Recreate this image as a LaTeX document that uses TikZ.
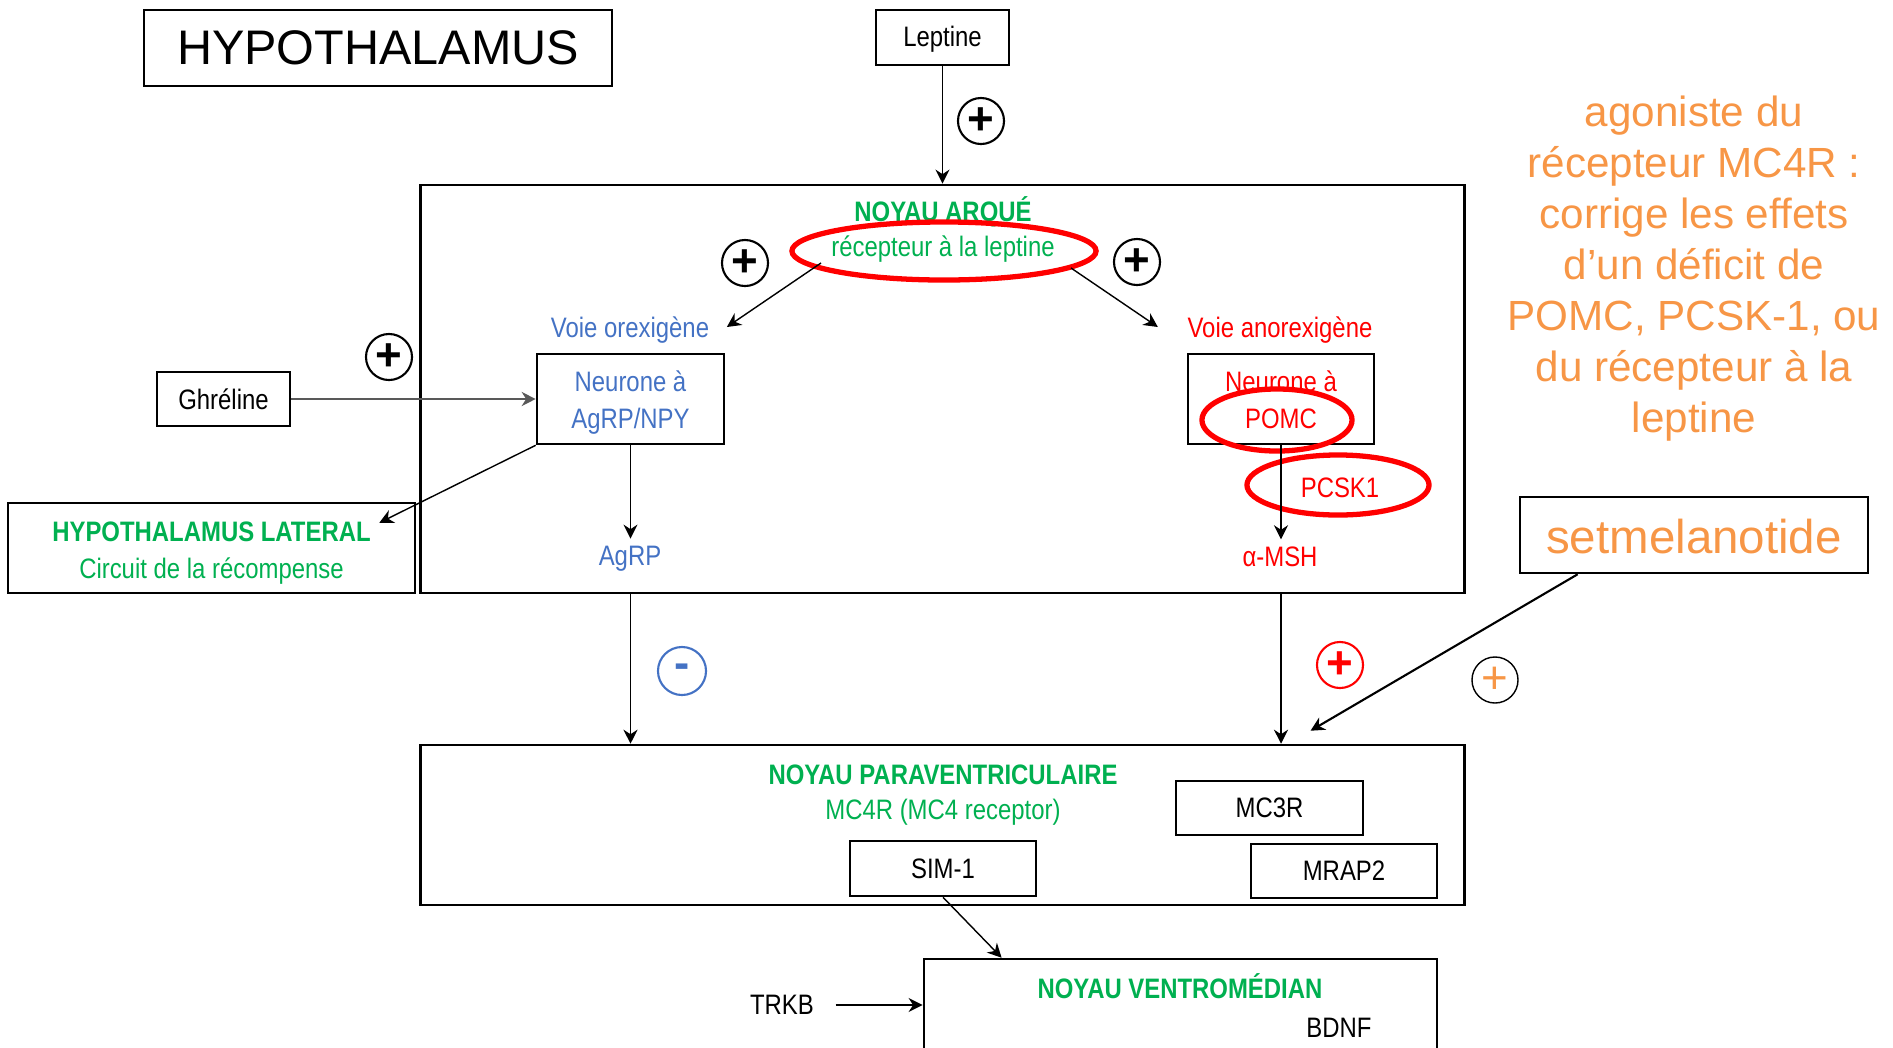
\documentclass[tikz,border=0pt]{standalone}
\usepackage{fontspec}
\setmainfont{Liberation Sans}
\newfontfamily\narrowfont[FakeStretch=0.85]{Liberation Sans}
\usetikzlibrary{arrows.meta,shapes.geometric,calc}
\definecolor{vert}{HTML}{00B050}
\definecolor{bleu}{HTML}{4472C4}
\definecolor{rouge}{HTML}{FF0000}
\definecolor{orangetxt}{HTML}{F79646}
\begin{document}
\begin{tikzpicture}[x=0.01cm,y=-0.01cm,
  boite/.style={draw,line width=0.7pt,inner sep=0pt},
  lbl/.style={font=\narrowfont\fontsize{8}{10.5}\selectfont,inner sep=2pt},
  gras/.style={font=\narrowfont\bfseries\fontsize{8}{10.5}\selectfont,inner sep=2pt},
  fl/.style={-{Stealth[length=4pt,width=4pt]},line width=0.4pt},
  signe/.style={circle,draw,line width=0.6pt,minimum size=0.46cm,inner sep=0pt,font=\bfseries\fontsize{13}{13}\selectfont},
  anneau/.style={ellipse,draw=rouge,line width=1.5pt,inner sep=0pt}]
\clip (0,0) rectangle (1893,1048);
\node[boite,minimum width=4.68cm,minimum height=0.76cm,font=\fontsize{13.8}{14}\selectfont] (hypo) at (378,48) {HYPOTHALAMUS};
\node[boite,minimum width=1.33cm,minimum height=0.55cm] (leptine) at (942.5,37.5) {};
\node[lbl] at (942.5,39.5) {Leptine};
% noyau arque
\node[boite,minimum width=10.43cm,minimum height=4.08cm] (arque) at (942.5,389) {};
\draw[fl] (leptine) -- (arque);
\node[signe] at (981,121) {+};
\node[gras,text=vert] (arqueT) at (943,212) {NOYAU ARQUÉ};
\node[lbl,text=vert] (recep) at (943,249) {récepteur à la leptine};
\node[anneau,minimum width=3.04cm,minimum height=0.58cm] (anRecep) at (944,251) {};
\node[signe] at (745,263) {+};
\node[signe] at (1137,262) {+};
\node[lbl,text=bleu] (orexi) at (630,330) {Voie orexigène};
\node[lbl,text=rouge] (anorexi) at (1280,330) {Voie anorexigène};
\coordinate (recG) at (821,263);
\coordinate (recD) at (1071,268);
\draw[fl] (recG) -- ([xshift=0.1cm,yshift=0.03cm]orexi.east);
\draw[fl] (recD) -- ([xshift=-0.22cm,yshift=0.03cm]anorexi.west);
\node[boite,minimum width=1.87cm,minimum height=0.9cm] (agrpN) at (630.5,399) {};
\node[lbl,text=bleu,align=center] at (630.5,403) {Neurone à\\AgRP/NPY};
\node[boite,minimum width=1.86cm,minimum height=0.9cm] (pomcN) at (1281,399) {};
\node[lbl,text=rouge,align=center] at (1281,400) {Neurone à\\POMC};
\node[anneau,minimum width=1.5cm,minimum height=0.62cm] (anPomc) at (1277,420) {};
\node[anneau,minimum width=1.82cm,minimum height=0.6cm] (pcsk) at (1338,485) {};
\node[lbl,text=rouge] at (1340,488) {PCSK1};
\node[lbl,text=rouge] (msh) at (1280,557) {α-MSH};
\draw[fl] (pomcN.south) -- (pomcN.south |- msh.north);
\node[lbl,text=bleu] (agrp) at (630,559) {AgRP};
\draw[fl] (agrpN.south) -- (agrpN.south |- agrp.north);
% ghreline
\node[boite,lbl,minimum width=1.33cm,minimum height=0.54cm] (ghrel) at (223.5,399) {Ghréline};
\draw[fl,draw=black!65,line width=0.6pt] (ghrel) -- (agrpN);
\node[signe] at (389,357) {+};
\node[boite,minimum width=4.07cm,minimum height=0.9cm] (lat) at (211.5,548) {};
\node[lbl,align=center,text=vert] at (211.5,553) {{\bfseries HYPOTHALAMUS LATERAL}\\Circuit de la récompense};
\draw[fl] (agrpN.south west) -- ($(lat.north east)+(-37,21)$);
% noyau paraventriculaire
\node[boite,minimum width=10.43cm,minimum height=1.6cm] (para) at (942.5,825) {};
\draw[fl] (arque.south -| agrpN) -- (para.north -| agrpN);
\draw[fl] (arque.south -| pomcN) -- (para.north -| pomcN);
\node[signe,draw=bleu,text=bleu,minimum size=0.48cm] at (682,671) {-};
\node[signe,draw=rouge,text=rouge] at (1340,665) {+};
\node[gras,text=vert] (paraT) at (943,775) {NOYAU PARAVENTRICULAIRE};
\node[lbl,text=vert] (mc4r) at (943,812) {MC4R (MC4 receptor)};
\node[boite,lbl,minimum width=1.86cm,minimum height=0.55cm] (sim) at (943,868.5) {SIM-1};
\node[boite,lbl,minimum width=1.87cm,minimum height=0.54cm] (mc3r) at (1269.5,808) {MC3R};
\node[boite,lbl,minimum width=1.86cm,minimum height=0.54cm] (mrap) at (1344,871) {MRAP2};
% noyau ventromedian
\node[boite,minimum width=5.13cm,minimum height=1.4cm] (vmh) at (1180.5,1029) {};
\draw[fl] (sim.south) -- ($(vmh.north west)+(79,0)$);
\node[gras,text=vert] (vmhT) at (1180,986) {NOYAU VENTROMÉDIAN};
\node[lbl] (bdnf) at (1339,1028) {BDNF};
\node[lbl] (trkb) at (782,1005) {TRKB};
\draw[fl] ([xshift=0.14cm]trkb.east) -- (trkb.east -| vmh.west);
% setmelanotide
\node[boite,minimum width=3.48cm,minimum height=0.76cm] (setm) at (1694,535) {};
\node[text=orangetxt,font=\fontsize{13.5}{14}\selectfont] at (1694,537) {setmelanotide};
\draw[fl,line width=0.6pt] ($(setm.south west)+(59,0)$) -- ($(para.north east)+(-155,-13)$);
\node[signe,line width=0.4pt,text=orangetxt,font=\fontsize{13}{13}\selectfont] at (1495,680) {+};
\node[text=orangetxt,align=center,font=\fontsize{12}{14.5}\selectfont] (agon) at (1694,269) {agoniste du\\récepteur MC4R :\\corrige les effets\\d’un déficit de\\POMC, PCSK-1, ou\\du récepteur à la\\leptine};
\end{tikzpicture}
\end{document}
